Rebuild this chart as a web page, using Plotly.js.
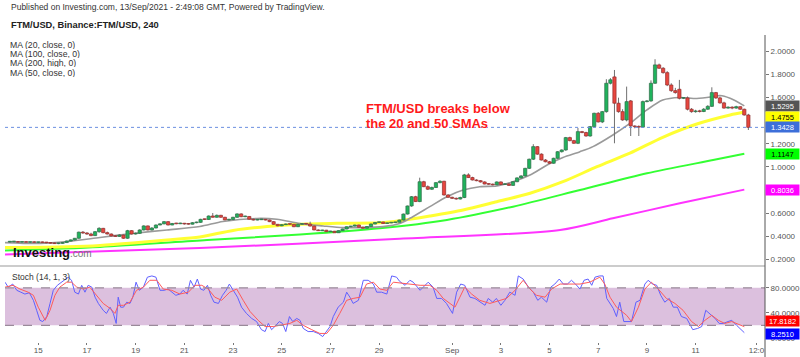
<!DOCTYPE html>
<html>
<head>
<meta charset="utf-8">
<script src="https://cdn.plot.ly/plotly-3.0.1.min.js"></script>
<style>html,body{margin:0;padding:0;background:#fff;}#chart{width:800px;height:357px;}</style>
</head>
<body>
<div id="chart"></div>
<script>
// ---- 4H candles, first candle 13 Aug 20:00, last 13 Sep 00:00 ----
const open = [0.350,0.352,0.352,0.348,0.351,0.347,0.350,0.346,0.349,0.345,0.343,0.339,0.336,0.338,0.345,0.358,0.368,0.382,0.435,0.428,0.419,0.405,0.439,0.468,0.431,0.419,0.402,0.398,0.410,0.382,0.448,0.419,0.425,0.454,0.489,0.454,0.471,0.497,0.507,0.526,0.497,0.510,0.508,0.512,0.506,0.504,0.517,0.520,0.546,0.545,0.575,0.564,0.581,0.564,0.541,0.545,0.564,0.593,0.569,0.571,0.547,0.540,0.543,0.545,0.540,0.526,0.503,0.490,0.500,0.505,0.503,0.482,0.503,0.507,0.505,0.488,0.454,0.448,0.452,0.439,0.443,0.430,0.448,0.462,0.482,0.487,0.497,0.478,0.469,0.484,0.506,0.519,0.523,0.510,0.515,0.518,0.521,0.540,0.592,0.662,0.742,0.700,0.872,0.829,0.807,0.822,0.864,0.876,0.757,0.737,0.728,0.722,0.735,0.931,0.908,0.887,0.881,0.870,0.852,0.850,0.845,0.870,0.848,0.853,0.840,0.872,0.905,0.922,0.988,1.067,1.176,1.111,1.060,1.045,1.032,1.075,1.132,1.147,1.254,1.228,1.205,1.306,1.298,1.268,1.349,1.465,1.390,1.479,1.725,1.780,1.552,1.479,1.407,1.572,1.355,1.349,1.345,1.566,1.572,1.725,1.884,1.855,1.817,1.710,1.661,1.673,1.595,1.598,1.500,1.479,1.485,1.480,1.500,1.525,1.644,1.598,1.555,1.510,1.518,1.510,1.522,1.500,1.450];
const high = [0.356,0.357,0.356,0.355,0.357,0.353,0.356,0.351,0.354,0.350,0.348,0.345,0.342,0.348,0.362,0.372,0.385,0.440,0.445,0.435,0.430,0.445,0.478,0.472,0.440,0.424,0.410,0.418,0.415,0.455,0.452,0.432,0.460,0.495,0.492,0.478,0.502,0.512,0.532,0.530,0.515,0.516,0.517,0.515,0.512,0.522,0.526,0.551,0.552,0.580,0.601,0.588,0.585,0.568,0.550,0.568,0.598,0.598,0.578,0.574,0.552,0.548,0.550,0.549,0.544,0.530,0.506,0.505,0.510,0.509,0.506,0.508,0.512,0.511,0.526,0.492,0.460,0.456,0.455,0.447,0.446,0.451,0.465,0.485,0.490,0.500,0.500,0.482,0.487,0.509,0.521,0.526,0.526,0.518,0.521,0.524,0.543,0.596,0.665,0.748,0.750,0.907,0.880,0.840,0.830,0.868,0.885,0.880,0.765,0.742,0.735,0.742,0.940,0.945,0.915,0.893,0.886,0.875,0.858,0.856,0.875,0.874,0.860,0.858,0.876,0.910,0.928,0.992,1.072,1.197,1.180,1.118,1.068,1.052,1.080,1.137,1.152,1.260,1.262,1.235,1.338,1.312,1.305,1.355,1.470,1.475,1.485,1.760,1.770,1.840,1.600,1.500,1.696,1.580,1.360,1.360,1.575,1.580,1.750,1.933,1.895,1.865,1.830,1.725,1.685,1.754,1.605,1.610,1.510,1.495,1.495,1.510,1.535,1.690,1.650,1.610,1.565,1.525,1.525,1.530,1.525,1.505,1.460];
const low = [0.346,0.347,0.345,0.344,0.346,0.342,0.345,0.340,0.343,0.338,0.336,0.333,0.331,0.335,0.343,0.355,0.364,0.378,0.420,0.412,0.400,0.402,0.430,0.425,0.415,0.398,0.394,0.395,0.378,0.378,0.415,0.414,0.420,0.450,0.450,0.450,0.468,0.495,0.503,0.494,0.495,0.503,0.505,0.500,0.500,0.502,0.512,0.516,0.540,0.541,0.562,0.560,0.560,0.538,0.536,0.542,0.560,0.565,0.565,0.544,0.536,0.537,0.540,0.537,0.522,0.500,0.486,0.487,0.497,0.499,0.479,0.480,0.500,0.502,0.485,0.452,0.446,0.445,0.437,0.436,0.428,0.428,0.445,0.460,0.479,0.485,0.476,0.466,0.467,0.482,0.503,0.516,0.508,0.507,0.512,0.514,0.518,0.536,0.588,0.655,0.696,0.695,0.825,0.800,0.800,0.818,0.858,0.752,0.733,0.722,0.716,0.718,0.730,0.904,0.883,0.876,0.865,0.849,0.845,0.840,0.842,0.845,0.845,0.836,0.837,0.868,0.900,0.918,0.982,1.060,1.105,1.056,1.040,1.028,1.028,1.070,1.125,1.140,1.222,1.200,1.198,1.292,1.262,1.262,1.342,1.385,1.380,1.470,1.715,1.205,1.470,1.400,1.395,1.268,1.335,1.268,1.340,1.560,1.565,1.720,1.850,1.808,1.700,1.650,1.635,1.585,1.588,1.490,1.470,1.470,1.472,1.475,1.495,1.520,1.590,1.548,1.505,1.505,1.500,1.505,1.495,1.445,1.320];
const close = [0.352,0.352,0.348,0.351,0.347,0.350,0.346,0.349,0.345,0.343,0.339,0.336,0.338,0.345,0.358,0.368,0.382,0.435,0.428,0.419,0.405,0.439,0.468,0.431,0.419,0.402,0.398,0.410,0.382,0.448,0.419,0.425,0.454,0.489,0.454,0.471,0.497,0.507,0.526,0.497,0.510,0.508,0.512,0.506,0.504,0.517,0.520,0.546,0.545,0.575,0.564,0.581,0.564,0.541,0.545,0.564,0.593,0.569,0.571,0.547,0.540,0.543,0.545,0.540,0.526,0.503,0.490,0.500,0.505,0.503,0.482,0.503,0.507,0.505,0.488,0.454,0.448,0.452,0.439,0.443,0.430,0.448,0.462,0.482,0.487,0.497,0.478,0.469,0.484,0.506,0.519,0.523,0.510,0.515,0.518,0.521,0.540,0.592,0.662,0.742,0.700,0.872,0.829,0.807,0.822,0.864,0.876,0.757,0.737,0.728,0.722,0.735,0.931,0.908,0.887,0.881,0.870,0.852,0.850,0.845,0.870,0.848,0.853,0.840,0.872,0.905,0.922,0.988,1.067,1.176,1.111,1.060,1.045,1.032,1.075,1.132,1.147,1.254,1.228,1.205,1.306,1.298,1.268,1.349,1.465,1.390,1.479,1.725,1.755,1.552,1.479,1.407,1.566,1.355,1.349,1.345,1.566,1.572,1.725,1.884,1.855,1.817,1.710,1.661,1.644,1.595,1.598,1.500,1.479,1.485,1.480,1.500,1.525,1.644,1.598,1.555,1.510,1.518,1.510,1.522,1.500,1.450,1.3428];

// ---- moving averages (candle index, value) ----
const sma20Idx = [-1.2,7.4,14.1,22.2,30.3,38.7,46.8,52.5,60.9,65.8,71.5,77.2,82.1,87.0,92.0,96.1,99.3,103.5,107.7,111.7,115.8,120.0,124.0,128.2,132.4,136.3,140.5,143.7,148.6,152.8,157.0,160.9,165.1,169.3,173.3,175.0,177.5,181];
const sma20Val = [0.344,0.337,0.354,0.389,0.424,0.454,0.484,0.528,0.554,0.547,0.510,0.489,0.474,0.474,0.483,0.510,0.569,0.656,0.742,0.800,0.829,0.835,0.872,0.930,1.017,1.082,1.132,1.176,1.277,1.377,1.494,1.580,1.602,1.593,1.609,1.619,1.595,1.5295];
const sma50Idx = [-1.2,14.1,22.2,30.3,38.7,46.8,55.0,63.4,71.5,81.3,91.2,96.1,103.5,111.7,120.0,128.2,136.3,144.7,152.8,160.9,169.3,177.5,181];
const sma50Val = [0.302,0.309,0.320,0.341,0.367,0.393,0.450,0.484,0.503,0.512,0.517,0.534,0.575,0.627,0.699,0.772,0.872,1.002,1.119,1.257,1.372,1.450,1.4755];
const sma100Idx = [-1.2,22.2,48.6,71.5,91.2,107.7,124.0,140.5,157.0,173.3,181];
const sma100Val = [0.276,0.307,0.367,0.415,0.469,0.541,0.656,0.800,0.945,1.060,1.1147];
const sma200Idx = [-1.2,46.8,96.1,135.6,148.6,165.1,181];
const sma200Val = [0.242,0.297,0.378,0.454,0.555,0.685,0.8036];

// ---- stochastic (14,1,3) ----
const kIdx = [-1.2,-0.4,0.7,1.7,2.7,3.7,4.8,5.8,6.6,7.4,8.1,9.1,9.9,10.7,11.7,12.8,13.6,14.4,15.2,16.0,16.9,17.7,18.5,19.3,20.2,21.0,21.8,23.0,23.8,24.7,25.5,26.2,26.7,27.3,28.0,28.8,29.6,30.3,31.1,31.9,32.9,33.9,35.0,36.0,37.0,38.0,39.0,39.9,40.9,41.9,42.7,43.7,44.5,45.4,46.2,47.0,47.8,48.7,49.5,50.3,51.4,52.4,53.3,54.1,55.1,56.1,57.1,58.3,59.6,60.8,62.0,62.9,63.7,64.5,65.3,66.4,67.2,68.0,68.9,69.7,70.7,71.5,72.3,73.5,74.8,76.0,77.1,78.1,78.9,79.7,80.9,82.2,83.0,83.8,84.6,85.9,87.1,88.3,89.6,90.4,91.6,92.9,94.1,95.3,96.1,97.4,98.6,99.4,101.1,103.1,104.3,105.2,106.4,107.6,109.1,110.1,111.1,112.1,113.4,114.6,115.8,117.1,117.9,119.0,119.9,121.0,122.0,123.2,124.5,125.3,126.5,127.8,129.0,130.1,131.0,132.3,133.3,134.3,135.4,136.4,137.4,138.4,139.4,140.5,141.5,142.5,143.4,144.2,145.3,146.2,147.1,148.0,148.7,149.5,150.3,151.3,152.4,153.2,154.3,155.3,156.5,157.3,158.4,159.4,160.4,161.4,162.5,163.5,164.5,165.5,166.8,168.3,169.5,170.5,171.5,172.5,173.8,174.8,175.8,177.0,177.9,179.1,181];
const kVal = [89,81,86,76,73,70,72,60,44,28,26,34,55,76,84,89,92,97,92,73,70,84,73,84,81,65,55,44,39,49,39,23,65,49,49,57,55,65,89,76,81,97,99,97,76,76,78,73,68,70,76,70,92,81,94,78,76,84,68,57,55,68,76,86,76,65,49,39,31,26,13,10,23,13,18,26,23,10,34,26,31,28,15,10,10,7,2,10,18,34,49,57,73,65,55,60,92,92,86,73,73,70,99,97,90,84,92,89,76,89,81,63,63,55,39,73,86,84,65,63,57,52,63,57,63,52,60,73,68,99,94,81,73,60,65,57,81,86,94,86,86,92,86,78,92,94,84,97,99,99,63,55,47,34,57,26,26,26,57,60,86,92,86,84,68,57,63,49,49,34,31,13,15,18,44,39,31,23,23,26,28,20,8.251];
const dIdx = [-1.2,0.8,2.5,4.5,5.8,7.0,8.7,9.9,11.1,12.3,14.0,15.2,16.5,18.1,19.7,21.4,23.0,24.7,25.9,26.7,28.0,29.6,31.2,32.9,34.5,36.2,37.8,39.9,41.9,44.0,45.6,47.3,48.9,50.5,52.2,54.2,55.9,57.5,59.2,61.2,62.9,64.9,67.0,69.0,70.7,72.3,74.4,76.4,78.1,79.7,81.3,83.0,84.6,86.3,87.9,89.6,91.2,92.9,94.5,96.1,98.6,101.1,103.5,105.2,106.8,108.4,109.7,110.9,112.1,113.8,115.8,118.3,120.8,122.4,124.5,126.5,128.2,129.8,131.9,133.5,135.6,138.0,140.5,142.9,145.4,146.6,147.9,149.5,150.8,152.0,153.2,154.9,156.5,158.1,159.8,161.8,163.9,165.9,168.0,169.7,171.3,173.0,174.6,176.2,177.9,179.1,181];
const dVal = [81,84,78,73,68,49,28,44,68,81,89,89,81,78,81,68,55,47,39,52,52,57,76,81,92,92,78,76,70,73,84,84,78,65,60,73,78,60,42,28,18,18,20,23,28,20,13,7,7,20,39,60,63,65,86,89,78,76,89,88,86,84,84,76,63,55,49,65,81,70,60,55,60,63,76,92,78,68,65,78,86,86,86,89,97,86,65,49,42,36,26,49,78,89,78,63,55,44,26,18,28,36,28,23,26,23,17.8182];

// ---- axis ticks (1.4 and 0.8 sit under the value labels and are not shown) ----
const tickIdx = [7,19,31,43,55,67,79,91,109,121,133,145,157,169,184];
const tickText = ['15','17','19','21','23','25','27','29','Sep','3','5','7','9','11','12:0'];
const priceTicks = [0.2,0.4,0.6,1.0,1.2,1.6,1.8,2.0];
const stochTicks = [0,40,80];

// ---- texts ----
const headerText = 'Published on Investing.com, 13/Sep/2021 - 2:49:08 GMT, Powered by TradingView.';
const symbolText = 'FTM/USD, Binance:FTM/USD, 240';
const maLegend = ['MA (20, close, 0)','MA (100, close, 0)','MA (200, high, 0)','MA (50, close, 0)'];
const noteLines = ['FTM/USD breaks below','the 20 and 50 SMAs'];
const lastPrice = close[close.length - 1];
const lastK = kVal[kVal.length - 1];
const lastD = dVal[dVal.length - 1];

const FONT = 'Arial, "Liberation Sans", sans-serif';
const xIdx = close.map((_, i) => i);
const isUp = close.map((c, i) => c >= open[i]);
const bodyBase = close.map((c, i) => Math.min(c, open[i]));
const bodyLen = close.map((c, i) => Math.max(Math.abs(c - open[i]), 0.006));
const wickX = [], wickY = [];
xIdx.forEach(i => { wickX.push(i, i, null); wickY.push(low[i], high[i], null); });

// pixel helpers for paper-positioned text (plot area: x 5..765, y 35..342)
const px = x => (x - 5) / 760;
const py = y => (342 - y) / 307;

const traces = [
  {type:'scatter', mode:'lines', x:sma200Idx, y:sma200Val, line:{color:'#ff33ff', width:2, shape:'spline', smoothing:0.8}, hoverinfo:'skip', xaxis:'x', yaxis:'y', zorder:0},
  {type:'scatter', mode:'lines', x:sma100Idx, y:sma100Val, line:{color:'#33ff33', width:2, shape:'spline', smoothing:0.8}, hoverinfo:'skip', xaxis:'x', yaxis:'y', zorder:0},
  {type:'scatter', mode:'lines', x:sma50Idx, y:sma50Val, line:{color:'#ffff33', width:3, shape:'spline', smoothing:0.8}, hoverinfo:'skip', xaxis:'x', yaxis:'y', zorder:0},
  {type:'scatter', mode:'lines', x:sma20Idx, y:sma20Val, line:{color:'#9a9a9a', width:1.6, shape:'spline', smoothing:0.8}, hoverinfo:'skip', xaxis:'x', yaxis:'y', zorder:0},
  {type:'scatter', mode:'lines', x:wickX, y:wickY, line:{color:'#707070', width:1}, hoverinfo:'skip', xaxis:'x', yaxis:'y', zorder:1, connectgaps:false},
  {type:'bar', x:xIdx, y:bodyLen, base:bodyBase, width:0.8,
   marker:{color:isUp.map(u => u ? '#1fb35c' : '#e8463e'), line:{color:isUp.map(u => u ? '#2f6b48' : '#8f2f2f'), width:0.7}},
   hoverinfo:'skip', xaxis:'x', yaxis:'y', zorder:2},
  {type:'scatter', mode:'lines', x:kIdx, y:kVal, line:{color:'#6060ff', width:1}, hoverinfo:'skip', xaxis:'x', yaxis:'y2'},
  {type:'scatter', mode:'lines', x:dIdx, y:dVal, line:{color:'#ff5a5a', width:1}, hoverinfo:'skip', xaxis:'x', yaxis:'y2'}
];

const tickFont = {family:FONT, size:8, color:'#555'};

function sideLabel(val, yref, bg, fg, shift){
  return {xref:'paper', yref:yref, x:1, y:val, xanchor:'left', yanchor:'middle', yshift:shift||0,
    text:val.toFixed(4), showarrow:false, bgcolor:bg, borderpad:0, width:33, height:10, align:'center',
    font:{family:FONT, size:7.5, color:fg}};
}

const annotations = [
  {xref:'paper', yref:'paper', x:px(9), y:py(7.5), xanchor:'left', yanchor:'middle', text:headerText, showarrow:false, font:{family:FONT, size:8.5, color:'#333'}},
  {xref:'paper', yref:'paper', x:px(9), y:py(25), xanchor:'left', yanchor:'middle', text:'<b>'+symbolText+'</b>', showarrow:false, font:{family:FONT, size:9.3, color:'#222'}},
  ...maLegend.map((t, i) => ({xref:'paper', yref:'paper', x:px(9), y:py(44.5 + i*9.2), xanchor:'left', yanchor:'middle', text:t, showarrow:false, borderpad:0, height:9, font:{family:FONT, size:8.7, color:'#333'}})),
  {xref:'paper', yref:'paper', x:px(364), y:py(108), xanchor:'left', yanchor:'middle', text:'<b>'+noteLines[0]+'</b>', showarrow:false, font:{family:FONT, size:13, color:'#ff1a1a'}},
  {xref:'paper', yref:'paper', x:px(364), y:py(123), xanchor:'left', yanchor:'middle', text:'<b>'+noteLines[1]+'</b>', showarrow:false, font:{family:FONT, size:13, color:'#ff1a1a'}},
  {xref:'paper', yref:'paper', x:px(11), y:py(252), xanchor:'left', yanchor:'middle', text:'<b>Investing</b>', showarrow:false, font:{family:FONT, size:13, color:'#111'}},
  {xref:'paper', yref:'paper', x:px(68), y:py(253.5), xanchor:'left', yanchor:'middle', text:'.com', showarrow:false, font:{family:FONT, size:10, color:'#777'}},
  {xref:'paper', yref:'paper', x:px(10), y:py(277), xanchor:'left', yanchor:'middle', text:'Stoch (14, 1, 3)', showarrow:false, font:{family:FONT, size:8.5, color:'#333'}},
  sideLabel(sma20Val[sma20Val.length-1], 'y', '#555555', '#ffffff', 0),
  sideLabel(sma50Val[sma50Val.length-1], 'y', '#ffff00', '#000000', -4.5),
  sideLabel(lastPrice, 'y', '#3d6fd9', '#ffffff', 0),
  sideLabel(sma100Val[sma100Val.length-1], 'y', '#00ff00', '#000000', 0),
  sideLabel(sma200Val[sma200Val.length-1], 'y', '#ff00ff', '#ffffff', 0),
  sideLabel(lastD, 'y2', '#ff0000', '#ffffff', 6),
  sideLabel(lastK, 'y2', '#0000ff', '#ffffff', -1)
];

const shapes = [
  {type:'rect', xref:'paper', yref:'y2', x0:0, x1:1, y0:20, y1:80, fillcolor:'#dcc0de', line:{width:0}, layer:'below'},
  {type:'line', xref:'paper', yref:'y2', x0:0, x1:1, y0:80, y1:80, line:{color:'#9a8a9a', width:1.2, dash:'dash'}},
  {type:'line', xref:'paper', yref:'y2', x0:0, x1:1, y0:20, y1:20, line:{color:'#9a8a9a', width:1.2, dash:'dash'}},
  {type:'line', xref:'paper', yref:'y', x0:0, x1:1, y0:lastPrice, y1:lastPrice, line:{color:'#6b8fe0', width:1, dash:'dot'}},
  {type:'line', xref:'paper', yref:'paper', x0:px(0), x1:1, y0:py(266), y1:py(266), line:{color:'#999', width:1}},
  {type:'line', xref:'paper', yref:'paper', x0:1, x1:1, y0:py(357), y1:1, line:{color:'#555', width:1}}
];

const layout = {
  width:800, height:357,
  margin:{l:5, r:35, t:35, b:15},
  paper_bgcolor:'#ffffff', plot_bgcolor:'#ffffff',
  showlegend:false,
  bargap:0,
  xaxis:{range:[-1.2, 186.1], anchor:'y2', tickmode:'array', tickvals:tickIdx, ticktext:tickText,
    ticks:'outside', ticklen:2, tickcolor:'#777', showline:true, linecolor:'#555', linewidth:1,
    ticklabelstandoff:-2,
    showgrid:false, zeroline:false, tickfont:tickFont, fixedrange:true},
  yaxis:{domain:[0.2476, 1], side:'right', range:[0.142, 2.143], tickmode:'array', tickvals:priceTicks,
    tickformat:'.4f', ticks:'outside', ticklen:3, tickcolor:'#777', showline:false, showgrid:false,
    zeroline:false, tickfont:tickFont, fixedrange:true},
  yaxis2:{domain:[0, 0.2476], side:'right', range:[-6.7, 114.9], tickmode:'array', tickvals:stochTicks,
    tickformat:'.4f', ticks:'outside', ticklen:3, tickcolor:'#777', showline:false, showgrid:false,
    zeroline:false, tickfont:tickFont, fixedrange:true},
  annotations:annotations,
  shapes:shapes
};

Plotly.newPlot('chart', traces, layout, {staticPlot:true, displayModeBar:false});
</script>
</body>
</html>
